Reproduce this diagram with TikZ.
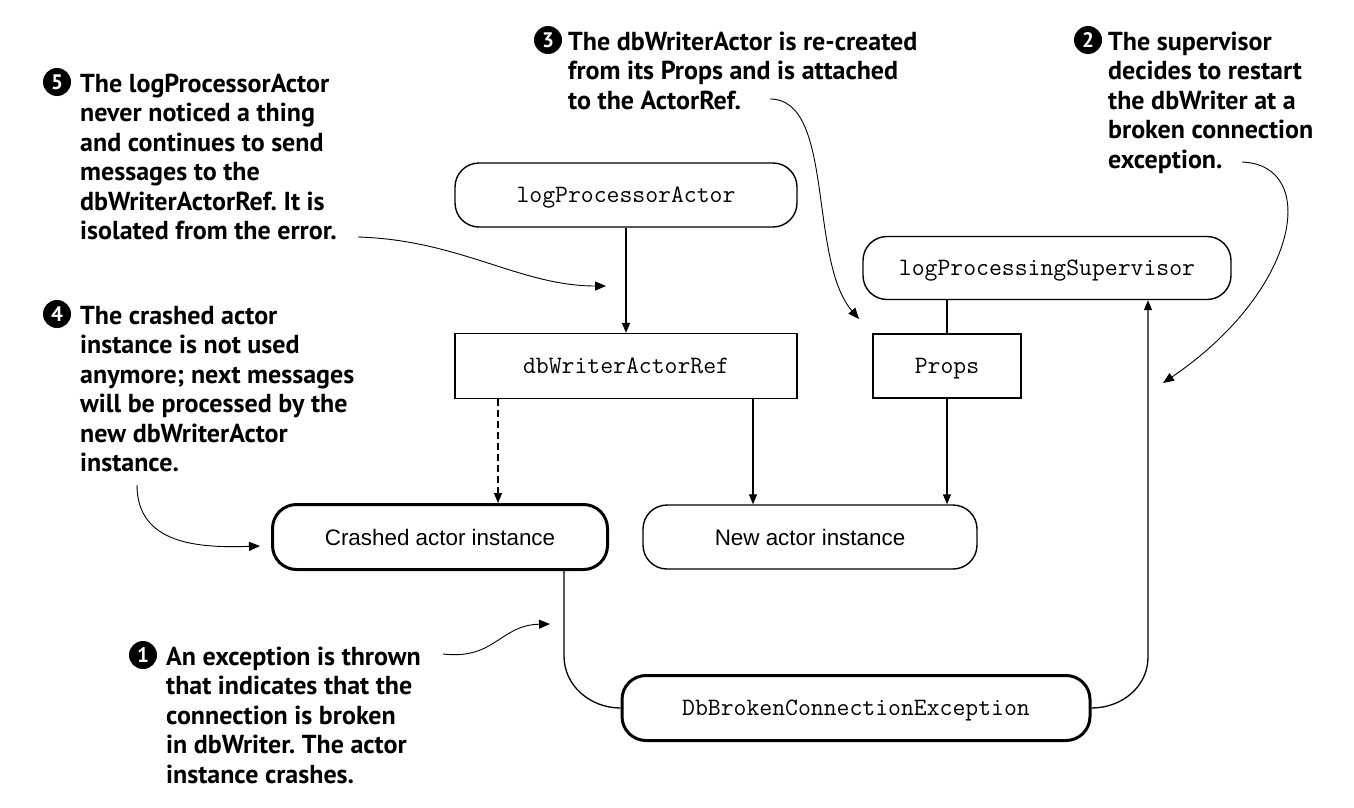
\documentclass[tikz,border=0pt]{standalone}
\usepackage{fontspec}
\setmainfont{Liberation Sans}
\newfontfamily\callfont{PT Sans}
\usetikzlibrary{arrows.meta}
\frenchspacing
\begin{document}
\begin{tikzpicture}[x=1pt,y=-1pt,
  tip/.style={-{Triangle[length=10pt,width=8pt]}},
  conn/.style={line width=1.3pt,tip},
  callarrow/.style={line width=0.9pt,-{Triangle[length=11pt,width=9pt]}},
  codebox/.style={draw,line width=1.4pt,inner sep=0pt,text depth=0pt,font=\ttfamily\fontsize{25}{28}\selectfont},
  roundbox/.style={codebox,rounded corners=24pt},
  instbox/.style={draw,rounded corners=24pt,inner sep=0pt,font=\fontsize{22.4}{26}\selectfont},
  numc/.style={circle,fill=black,text=white,inner sep=0pt,minimum size=28pt,font=\callfont\bfseries\fontsize{21}{21}\selectfont},
  calltext/.style={anchor=north west,inner sep=0pt,align=left,font=\callfont\bfseries\fontsize{26}{29.5}\selectfont}
]
\useasboundingbox (0,0) rectangle (1354,808);

% main nodes
\node[roundbox,minimum width=342pt,minimum height=64pt] (lpa) at (626,195) {logProcessorActor};
\node[codebox,minimum width=342pt,minimum height=65pt] (ref) at (626,366) {dbWriterActorRef};
\node[roundbox,minimum width=368pt,minimum height=63pt] (sup) at (1047,268) {logProcessingSupervisor};
\node[codebox,minimum width=148pt,minimum height=64pt] (props) at (947,366) {Props};
\node[instbox,line width=3pt,minimum width=335pt,minimum height=65pt] (crash) at (440,537) {Crashed actor instance};
\node[instbox,line width=1.4pt,minimum width=334pt,minimum height=64pt] (new) at (810,537) {New actor instance};
\node[roundbox,line width=3pt,minimum width=468pt,minimum height=65pt] (exc) at (856,708) {DbBrokenConnectionException};

% connectors
\draw[conn] (lpa.south) -- (ref.north);
\draw[conn,dashed,dash pattern=on 7pt off 4pt] ([xshift=-128pt]ref.south) -- ([xshift=58pt]crash.north);
\draw[conn] ([xshift=127pt]ref.south) -- ([xshift=-57pt]new.north);
\draw[conn] (props.south) -- ([xshift=137pt]new.north);
\draw[line width=1.3pt] (sup.south -| props.north) -- (props.north);
\draw[line width=1.3pt] ([xshift=124pt]crash.south) -- ++(0,85)
   .. controls ++(0,30) and ++(-30,0) .. (exc.west);
\coordinate (supin) at ([xshift=101pt]sup.south);
\draw[conn] (exc.east) .. controls ++(30,0) and ++(0,30) .. ([yshift=51pt]exc.east -| supin)
   -- (supin);

% callouts
\node[numc] (n5) at (57,82) {5};
\node[calltext] (t5) at (80,70) {\rule{0pt}{22pt}The logProcessorActor\\never noticed a thing\\and continues to send\\messages to the\\dbWriterActorRef. It is\\isolated from the error.};
\node[numc] (n4) at (57,314) {4};
\node[calltext] (t4) at (80,302) {\rule{0pt}{22pt}The crashed actor\\instance is not used\\anymore; next messages\\will be processed by the\\new dbWriterActor\\instance.};
\node[numc] (n3) at (548,40) {3};
\node[calltext] (t3) at (568,28) {\rule{0pt}{22pt}The dbWriterActor is re-created\\from its Props and is attached\\to the ActorRef.};
\node[numc] (n2) at (1088,40) {2};
\node[calltext] (t2) at (1108,28) {\rule{0pt}{22pt}The supervisor\\decides to restart\\the dbWriter at a\\broken connection\\exception.};
\node[numc] (n1) at (143,655) {1};
\node[calltext] (t1) at (166,643) {\rule{0pt}{22pt}An exception is thrown\\that indicates that the\\connection is broken\\in dbWriter. The actor\\instance crashes.};

\coordinate (a5s) at (358,237); \coordinate (a5e) at (606,286);
\draw[callarrow] (a5s) .. controls (460,240) and (520,286) .. (a5e);
\coordinate (a3s) at (770,99); \coordinate (a3e) at (859,319);
\draw[callarrow] (a3s) .. controls (835,99) and (808,260) .. (a3e);
\coordinate (a2s) at (1242,162); \coordinate (a2e) at (1163,383);
\draw[callarrow] (a2s) .. controls (1320,165) and (1300,290) .. (a2e);
\coordinate (a4s) at (137,485); \coordinate (a4e) at (260,546);
\draw[callarrow] (a4s) .. controls (137,545) and (200,548) .. (a4e);
\coordinate (a1s) at (443,654); \coordinate (a1e) at (550,624);
\draw[callarrow] (a1s) .. controls (495,660) and (500,625) .. (a1e);
\end{tikzpicture}
\end{document}
